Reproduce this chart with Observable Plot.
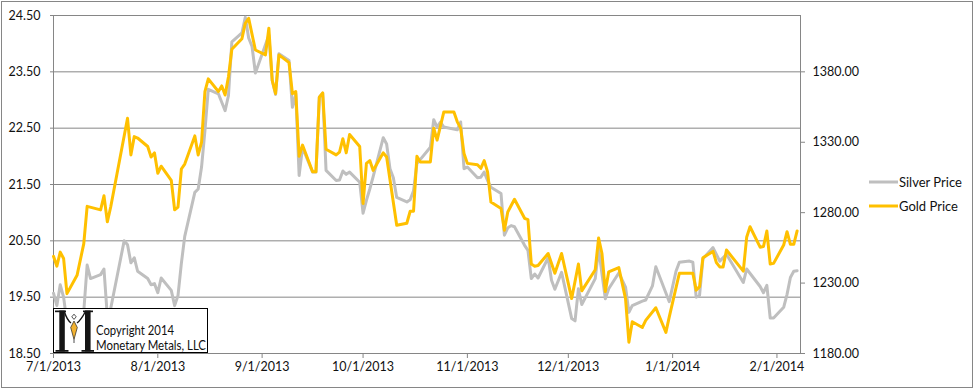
<!DOCTYPE html>
<html><head><meta charset="utf-8">
<script src="https://cdn.jsdelivr.net/npm/d3@7"></script>
<script src="https://cdn.jsdelivr.net/npm/@observablehq/plot@0.6"></script>
<style>
html,body{margin:0;padding:0;background:#fff;}
#chart{position:relative;width:974px;height:389px;overflow:hidden;}
</style></head><body><div id="chart"></div>
<script>
const silverDates = ["2013-07-01","2013-07-02","2013-07-03","2013-07-04","2013-07-05","2013-07-08","2013-07-09","2013-07-10","2013-07-11","2013-07-12","2013-07-15","2013-07-16","2013-07-17","2013-07-18","2013-07-22","2013-07-23","2013-07-24","2013-07-25","2013-07-26","2013-07-29","2013-07-30","2013-07-31","2013-08-01","2013-08-02","2013-08-05","2013-08-06","2013-08-07","2013-08-08","2013-08-09","2013-08-12","2013-08-13","2013-08-14","2013-08-15","2013-08-16","2013-08-19","2013-08-20","2013-08-21","2013-08-22","2013-08-23","2013-08-26","2013-08-27","2013-08-28","2013-08-29","2013-08-30","2013-09-03","2013-09-04","2013-09-05","2013-09-06","2013-09-09","2013-09-10","2013-09-11","2013-09-12","2013-09-13","2013-09-16","2013-09-17","2013-09-18","2013-09-19","2013-09-20","2013-09-23","2013-09-24","2013-09-25","2013-09-26","2013-09-27","2013-09-30","2013-10-01","2013-10-02","2013-10-03","2013-10-04","2013-10-07","2013-10-08","2013-10-09","2013-10-10","2013-10-11","2013-10-14","2013-10-15","2013-10-16","2013-10-17","2013-10-21","2013-10-22","2013-10-23","2013-10-24","2013-10-25","2013-10-29","2013-10-30","2013-10-31","2013-11-01","2013-11-04","2013-11-05","2013-11-06","2013-11-07","2013-11-08","2013-11-11","2013-11-12","2013-11-13","2013-11-14","2013-11-15","2013-11-18","2013-11-19","2013-11-20","2013-11-21","2013-11-22","2013-11-25","2013-11-26","2013-11-27","2013-11-29","2013-12-02","2013-12-03","2013-12-04","2013-12-05","2013-12-09","2013-12-10","2013-12-12","2013-12-13","2013-12-16","2013-12-18","2013-12-19","2013-12-20","2013-12-23","2013-12-24","2013-12-26","2013-12-27","2013-12-31","2014-01-02","2014-01-03","2014-01-06","2014-01-07","2014-01-08","2014-01-09","2014-01-10","2014-01-13","2014-01-15","2014-01-17","2014-01-22","2014-01-23","2014-01-27","2014-01-28","2014-01-29","2014-01-30","2014-01-31","2014-02-03","2014-02-04","2014-02-05","2014-02-06","2014-02-07"];
const silverValues = [19.57,19.35,19.72,19.5,19.05,19.1,19.05,19.25,20.07,19.83,19.9,20.0,19.15,19.3,20.5,20.43,20.11,20.2,19.96,19.83,19.72,19.74,19.58,19.84,19.62,19.35,19.53,20.1,20.58,21.36,21.42,21.81,22.45,23.19,23.11,22.96,22.81,23.08,24.03,24.19,24.47,24.1,23.95,23.48,24.15,23.35,23.1,23.82,23.7,22.87,23.11,21.66,22.16,21.72,21.72,23.05,23.12,21.75,21.57,21.58,21.74,21.68,21.72,21.54,20.99,21.22,21.42,21.64,22.33,22.22,21.78,21.62,21.27,21.19,21.23,21.39,21.87,22.16,22.65,22.52,22.61,22.52,22.47,22.61,21.78,21.81,21.62,21.63,21.72,21.57,21.45,21.34,20.6,20.73,20.77,20.75,20.42,20.33,19.83,19.91,19.84,20.2,19.8,19.64,19.94,19.12,19.08,19.65,19.37,19.83,20.36,19.47,19.65,19.93,19.68,19.23,19.35,19.43,19.45,19.7,20.04,19.42,19.96,20.12,20.14,20.12,19.5,19.53,20.18,20.38,20.14,20.26,19.76,20.0,19.69,19.58,19.71,19.13,19.13,19.32,19.55,19.85,19.96,19.97];

const goldDates = ["2013-07-01","2013-07-02","2013-07-03","2013-07-04","2013-07-05","2013-07-08","2013-07-10","2013-07-11","2013-07-15","2013-07-16","2013-07-17","2013-07-18","2013-07-23","2013-07-24","2013-07-25","2013-07-26","2013-07-29","2013-07-30","2013-07-31","2013-08-01","2013-08-02","2013-08-05","2013-08-06","2013-08-07","2013-08-08","2013-08-09","2013-08-12","2013-08-13","2013-08-14","2013-08-15","2013-08-16","2013-08-19","2013-08-20","2013-08-21","2013-08-22","2013-08-23","2013-08-26","2013-08-27","2013-08-28","2013-08-30","2013-09-02","2013-09-03","2013-09-04","2013-09-05","2013-09-06","2013-09-09","2013-09-10","2013-09-11","2013-09-12","2013-09-13","2013-09-16","2013-09-17","2013-09-18","2013-09-19","2013-09-20","2013-09-23","2013-09-24","2013-09-25","2013-09-26","2013-09-27","2013-09-30","2013-10-01","2013-10-02","2013-10-03","2013-10-04","2013-10-07","2013-10-08","2013-10-11","2013-10-14","2013-10-15","2013-10-16","2013-10-17","2013-10-18","2013-10-21","2013-10-22","2013-10-23","2013-10-25","2013-10-28","2013-10-29","2013-10-30","2013-10-31","2013-11-01","2013-11-04","2013-11-05","2013-11-06","2013-11-07","2013-11-08","2013-11-11","2013-11-12","2013-11-13","2013-11-15","2013-11-18","2013-11-19","2013-11-20","2013-11-21","2013-11-22","2013-11-25","2013-11-27","2013-11-29","2013-12-02","2013-12-04","2013-12-05","2013-12-09","2013-12-10","2013-12-11","2013-12-12","2013-12-13","2013-12-16","2013-12-18","2013-12-19","2013-12-20","2013-12-23","2013-12-24","2013-12-27","2013-12-30","2013-12-31","2014-01-03","2014-01-06","2014-01-07","2014-01-08","2014-01-09","2014-01-10","2014-01-13","2014-01-14","2014-01-15","2014-01-16","2014-01-17","2014-01-22","2014-01-23","2014-01-24","2014-01-27","2014-01-28","2014-01-29","2014-01-30","2014-01-31","2014-02-03","2014-02-04","2014-02-05","2014-02-06","2014-02-07"];
const goldValues = [1249,1242,1252,1247.5,1222.5,1235.5,1258,1284.5,1282,1292,1273.5,1284,1347,1321,1334,1333,1327,1319.5,1322.5,1308,1313,1303,1282,1284,1311,1314.5,1334.5,1321,1330,1366,1375,1366,1370,1363.5,1376.5,1396,1403.5,1414.5,1418,1395.5,1392,1411,1374,1364.5,1392,1386.5,1364.5,1366,1320,1328,1309,1309,1362,1365,1325,1321,1323,1332.5,1322.5,1335.5,1327,1286.5,1315,1317,1310,1322.5,1319.5,1271,1272.5,1281,1281,1320,1316,1316,1340,1331.5,1351.5,1351.5,1344.5,1340,1322,1315,1314,1311.5,1317,1309,1287.5,1283,1267.5,1280.5,1289.5,1276,1275,1243.5,1242,1242.5,1251,1237,1251,1219,1243.5,1224.5,1239.5,1262,1251,1224,1238,1241,1219,1188,1202.5,1198.5,1203.5,1212.5,1195,1206,1237,1237,1237,1225,1227.5,1248,1252.5,1244.5,1241.5,1241.5,1253.5,1238.5,1262.5,1270,1255.5,1256,1267,1243.5,1244,1257,1266.5,1257.5,1257.5,1267];

const silverTicks = [18.5,19.5,20.5,21.5,22.5,23.5,24.5];
const goldTicks = [1180,1230,1280,1330,1380];
const monthTicks = ["2013-07-01","2013-08-01","2013-09-01","2013-10-01","2013-11-01","2013-12-01","2014-01-01","2014-02-01"];
const seriesNames = ["Silver Price","Gold Price"];
const seriesColors = ["#BFBFBF","#FFC000"];
const silverDomain = [18.5,24.5];
const goldDomain = [1180,1420];
const dateDomain = ["2013-07-01","2014-02-08"];
const logoLines = ["Copyright 2014","Monetary Metals, LLC"];

const parse = d3.utcParse("%Y-%m-%d");
const k = (silverDomain[1]-silverDomain[0])/(goldDomain[1]-goldDomain[0]);
const g2s = g => silverDomain[0] + (g - goldDomain[0]) * k;
const s2g = s => goldDomain[0] + (s - silverDomain[0]) / k;

const silver = silverDates.map((d,i)=>({date:parse(d), value:silverValues[i]}));
const gold = goldDates.map((d,i)=>({date:parse(d), value:g2s(goldValues[i])}));

const FONT = "Lato, 'Open Sans', sans-serif";
const W = 974, H = 389;
const mL = 53, mR = 174, mT = 15, mB = 36;

const chart = Plot.plot({
  width: W, height: H,
  marginLeft: mL, marginRight: mR, marginTop: mT, marginBottom: mB,
  style: {fontFamily: FONT, fontSize: "12.5px", color: "#111", background: "#fff", overflow: "visible"},
  x: {type: "utc", domain: dateDomain.map(parse), label: null},
  y: {domain: silverDomain, label: null},
  marks: [
    Plot.ruleY(silverTicks, {stroke: "#868686", strokeWidth: 1}),
    Plot.frame({stroke: "#868686", strokeWidth: 1}),
    Plot.axisY(silverTicks, {anchor: "left", tickSize: 3, tickPadding: 10, stroke: "#868686", fill: "#111", tickFormat: d3.format(".2f"), label: null}),
    Plot.axisY(goldTicks.map(g2s), {anchor: "right", tickSize: 4, tickPadding: 8, stroke: "#868686", fill: "#111", tickFormat: v => s2g(v).toFixed(2), label: null}),
    Plot.axisX(monthTicks.map(parse), {anchor: "bottom", tickSize: 5, tickPadding: 4, stroke: "#868686", fill: "#111", tickFormat: d3.utcFormat("%-m/%-d/%Y"), label: null}),
    Plot.line(silver, {x: "date", y: "value", stroke: seriesColors[0], strokeWidth: 3, strokeLinejoin: "round", strokeLinecap: "round"}),
    Plot.line(gold, {x: "date", y: "value", stroke: seriesColors[1], strokeWidth: 3, strokeLinejoin: "round", strokeLinecap: "round"})
  ]
});

document.getElementById("chart").appendChild(chart);

const svg = d3.select(chart);
// outer chart border
svg.append("rect").attr("x",1.5).attr("y",1.5).attr("width",W-3).attr("height",H-3)
  .attr("fill","none").attr("stroke","#868686").attr("stroke-width",1);

// legend
const lg = svg.append("g").attr("font-family", FONT).attr("font-size", 13).attr("fill", "#111").attr("text-anchor", "start");
seriesNames.forEach((name, i) => {
  const y = 182 + i * 24;
  lg.append("line").attr("x1", 869).attr("x2", 898).attr("y1", y).attr("y2", y)
    .attr("stroke", seriesColors[i]).attr("stroke-width", 3);
  lg.append("text").attr("x", 899).attr("y", y).attr("dy", "0.35em").text(name);
});

// logo box (an image in the original, drawn here as simple shapes)
const logo = svg.append("g").attr("text-anchor", "start");
logo.append("rect").attr("x", 53.5).attr("y", 308.5).attr("width", 154).attr("height", 44)
  .attr("fill", "#fff").attr("stroke", "#000").attr("stroke-width", 1);
const ink = "#151515";
const mShapes = [
  "M55,310.5 H66 V312.2 H55 Z", "M83,310.5 H93 V312.2 H83 Z",
  "M59.3,310.5 H64.8 V351.5 H59.3 Z", "M85,310.5 H90.6 V351.5 H85 Z",
  "M55.5,350 H68.5 V351.8 H55.5 Z", "M81.5,350 H94 V351.8 H81.5 Z"
];
mShapes.forEach(d => logo.append("path").attr("d", d).attr("fill", ink));
logo.append("path").attr("d", "M64.5,312 Q67,320 71,323 M85.2,312 Q81,320 77,323")
  .attr("fill", "none").attr("stroke", ink).attr("stroke-width", 1.4);
logo.append("path").attr("d", "M74,321 L77.3,327.5 L74,339.5 L70.7,327.5 Z")
  .attr("fill", "#F2B230").attr("stroke", "#222").attr("stroke-width", 0.7);
logo.append("path").attr("d", "M74,314.2 L76.2,316.8 L74,319.4 L71.8,316.8 Z")
  .attr("fill", "#fff").attr("stroke", "#222").attr("stroke-width", 0.8);
logo.append("path").attr("d", "M74,339.5 V343").attr("stroke", "#222").attr("stroke-width", 0.8);
const logoWidths = [78, 110];
logoLines.forEach((t, i) => {
  logo.append("text").attr("x", 96).attr("y", 334.5 + i * 15.3)
    .attr("font-family", FONT).attr("font-size", 12.5).attr("fill", "#111")
    .attr("textLength", logoWidths[i]).attr("lengthAdjust", "spacingAndGlyphs").text(t);
});
</script></body></html>
